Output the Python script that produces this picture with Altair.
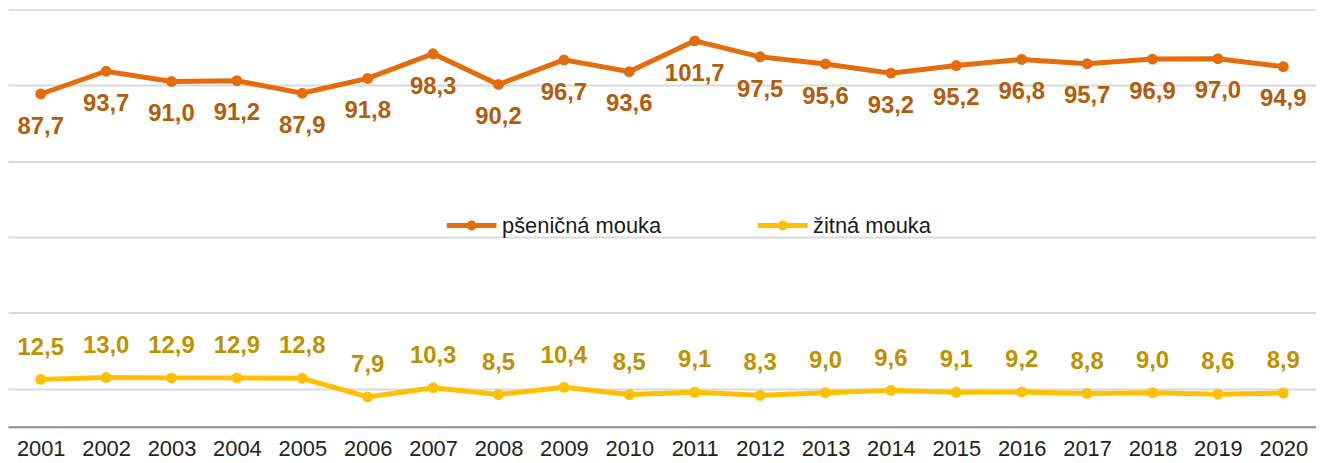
import altair as alt
import pandas as pd

years = [str(y) for y in range(2001, 2021)]
wheat = [87.7, 93.7, 91.0, 91.2, 87.9, 91.8, 98.3, 90.2, 96.7, 93.6,
         101.7, 97.5, 95.6, 93.2, 95.2, 96.8, 95.7, 96.9, 97.0, 94.9]
rye = [12.5, 13.0, 12.9, 12.9, 12.8, 7.9, 10.3, 8.5, 10.4, 8.5,
       9.1, 8.3, 9.0, 9.6, 9.1, 9.2, 8.8, 9.0, 8.6, 8.9]
series_names = ["pšeničná mouka", "žitná mouka"]
series_colors = ["#E46C0A", "#FFC000"]
label_colors = ["#B35C0C", "#BF9000"]
grid_values = [10, 30, 50, 70, 90, 110]

rows = []
for name, vals in zip(series_names, [wheat, rye]):
    for y, v in zip(years, vals):
        rows.append({"rok": y, "řada": name, "hodnota": v,
                     "popisek": f"{v:.1f}".replace(".", ",")})
df = pd.DataFrame(rows)

x = alt.X("rok:O", title=None,
          axis=alt.Axis(labelAngle=0, ticks=False, grid=False, domain=True,
                        domainColor="#8C8C8C", domainWidth=2,
                        labelFontSize=22, labelFont="Liberation Sans",
                        labelColor="#222222", labelPadding=12))
y = alt.Y("hodnota:Q", title=None,
          scale=alt.Scale(domain=[0, 110], nice=False, zero=True),
          axis=alt.Axis(values=grid_values, labels=False, ticks=False,
                        domain=False, grid=True, gridColor="#D9D9D9",
                        gridWidth=2))
color_scale = alt.Scale(domain=series_names, range=series_colors)

base = alt.Chart(df)

lines = base.mark_line(strokeWidth=5).encode(
    x=x, y=y,
    color=alt.Color("řada:N", scale=color_scale, sort=series_names,
                    legend=alt.Legend(
                        title=None, orient="none", direction="horizontal",
                        legendX=439, legendY=190,
                        symbolType="M-1,0H1M0.1,0A0.1,0.1 0 1,1 -0.1,0A0.1,0.1 0 1,1 0.1,0Z",
                        symbolSize=2500, symbolStrokeWidth=5,
                        labelFontSize=22, labelFont="Liberation Sans",
                        labelColor="#1A1A1A", labelOffset=3,
                        columnPadding=86, labelLimit=400))
)

points = base.mark_circle(size=120, opacity=1).encode(
    x=x, y=y,
    color=alt.Color("řada:N", scale=color_scale, legend=None)
)

text_wheat = base.transform_filter(
    alt.datum["řada"] == series_names[0]
).mark_text(dy=33, fontSize=24, fontWeight="bold", font="Liberation Sans",
            color=label_colors[0]).encode(x=x, y=y, text="popisek:N")

text_rye = base.transform_filter(
    alt.datum["řada"] == series_names[1]
).mark_text(dy=-32, fontSize=24, fontWeight="bold", font="Liberation Sans",
            color=label_colors[1]).encode(x=x, y=y, text="popisek:N")

chart = alt.layer(lines, points, text_wheat, text_rye).properties(
    width=1316, height=420, padding=0
).configure_view(stroke=None).configure_scale(pointPadding=0.5)

chart.save("out.html", embed_options={"renderer": "svg", "actions": False})
